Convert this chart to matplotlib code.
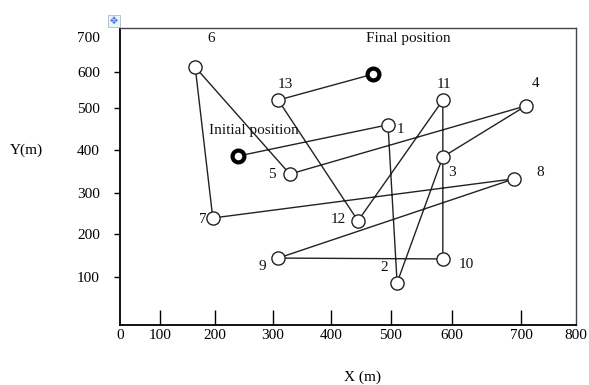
import numpy as np
import matplotlib
matplotlib.use('Agg')
import matplotlib.pyplot as plt

plt.rcParams['font.family'] = ['Liberation Serif', 'DejaVu Sans']

# node positions (m), in visiting order
labels = ['Initial position', '1', '2', '3', '4', '5', '6', '7', '8', '9',
          '10', '11', '12', '13', 'Final position']
x_m = [240, 495, 510, 585, 709, 329, 164, 196, 690, 309, 585, 585, 445, 309, 470]
y_m = [386, 460, 88, 384, 506, 344, 614, 239, 333, 144, 142, 522, 232, 522, 594]

x_ticks = [0, 100, 200, 300, 400, 500, 600, 700, 800]
y_ticks = [100, 200, 300, 400, 500, 600, 700]

# the original axes are hand drawn: tick spacing is not even,
# so map tick values to where the ticks sit on the drawing
x_cal_val = [0, 100, 200, 300, 400, 500, 600, 700, 800]
x_cal_pos = [0, 40, 95, 153, 211, 271, 332, 401, 456]
y_cal_val = [0, 100, 200, 300, 400, 500, 600, 700, 750]
y_cal_pos = [0, 48, 91, 132, 175, 217, 253, 288, 306]

def x_fwd(v):
    return np.interp(v, x_cal_val, x_cal_pos)

def x_inv(p):
    return np.interp(p, x_cal_pos, x_cal_val)

def y_fwd(v):
    return np.interp(v, y_cal_val, y_cal_pos)

def y_inv(p):
    return np.interp(p, y_cal_pos, y_cal_val)

# label offsets in pixels from each node
offsets = {'Initial position': (16, 26), '1': (12, -5), '2': (-13, 15), '3': (9, -16),
           '4': (10, 22), '5': (-18, 0), '6': (16, 29), '7': (-10, -1), '8': (26, 6),
           '9': (-16, -8), '10': (23, -6), '11': (1, 16), '12': (-20, 1),
           '13': (7, 16), 'Final position': (35, 36)}

fig = plt.figure(figsize=(5.89, 3.85), dpi=100)
ax = fig.add_axes([120 / 589, 60 / 385, 456 / 589, 297 / 385])
ax.set_xscale('function', functions=(x_fwd, x_inv))
ax.set_yscale('function', functions=(y_fwd, y_inv))

# path
ax.plot(x_m, y_m, color='#222222', lw=1.0, zorder=1)
# intermediate nodes
ax.plot(x_m[1:-1], y_m[1:-1], 'o', ms=9.5, mfc='white', mec='#222222', mew=1.0, zorder=2)
# start and end
ax.plot([x_m[0], x_m[-1]], [y_m[0], y_m[-1]], 'o', ms=8.5, mfc='white', mec='black',
        mew=3.0, zorder=3)

for lab, x, y in zip(labels, x_m, y_m):
    ax.annotate(lab, (x, y), xytext=offsets[lab], textcoords='offset pixels',
                ha='center', va='center', fontsize=11, color='#111111')

ax.set_xlim(0, 800)
ax.set_ylim(0, 725)
ax.set_xticks(x_ticks)
ax.set_xticklabels([str(t) for t in x_ticks])
ax.set_yticks(y_ticks)
ax.set_yticklabels([str(t) for t in y_ticks])
ax.minorticks_off()

ax.tick_params(axis='x', direction='in', length=11, width=1, labelsize=11, pad=3)
ax.tick_params(axis='y', direction='out', length=4.5, width=1, labelsize=11, pad=10)
xt = ax.xaxis.get_major_ticks()
xt[0].tick1line.set_visible(False)
xt[-1].tick1line.set_visible(False)
ax.yaxis.get_major_ticks()[-1].tick1line.set_visible(False)

for s in ['left', 'bottom']:
    ax.spines[s].set_linewidth(1.3)
    ax.spines[s].set_color('black')
for s in ['top', 'right']:
    ax.spines[s].set_linewidth(1.0)
    ax.spines[s].set_color('#444444')

fig.text(26 / 589, 1 - 150 / 385, 'Y(m)', ha='center', va='center', fontsize=11)
fig.text(362 / 589, 1 - 377 / 385, 'X (m)', ha='center', va='center', fontsize=11)

# move handle of the original drawing
fig.text(114 / 589, 1 - 21 / 385, '\u2725', ha='center', va='center', fontsize=7,
         color='#3a6fd8', family='DejaVu Sans',
         bbox=dict(boxstyle='square,pad=0.15', fc='#eef2fb', ec='#b0b8c8', lw=0.6))

fig.savefig('out.png', dpi=100)
